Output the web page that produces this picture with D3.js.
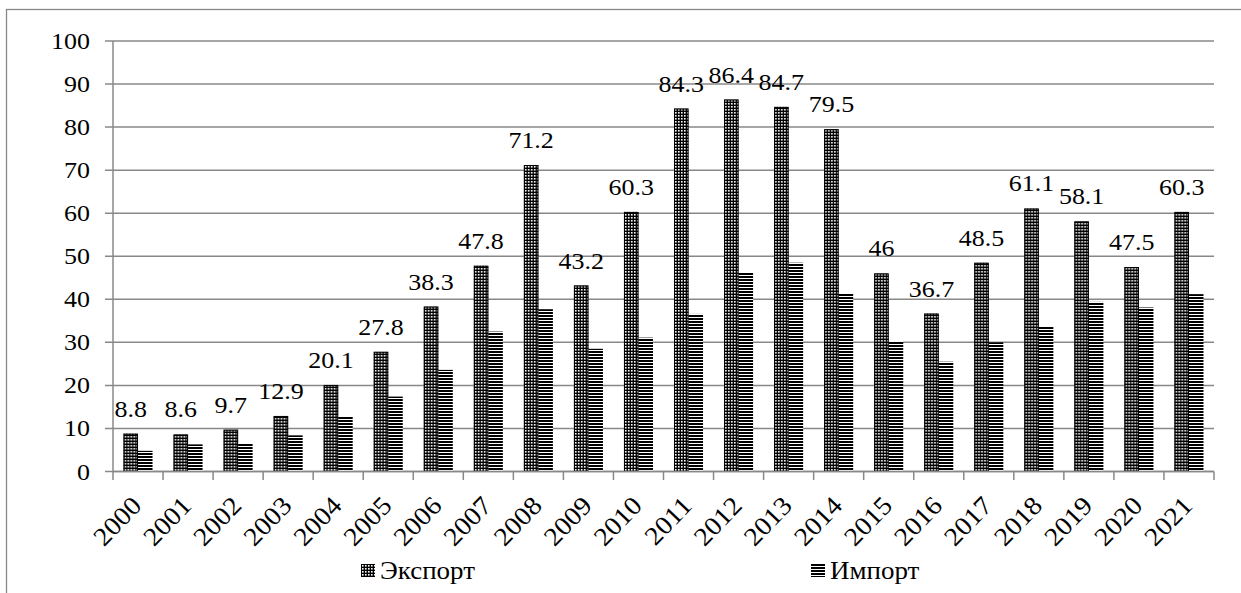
<!DOCTYPE html>
<html><head><meta charset="utf-8">
<script src="https://cdn.jsdelivr.net/npm/d3@7"></script>
<style>
html,body{margin:0;padding:0;background:#fff;}
</style></head>
<body>
<svg id="chart" width="1241" height="593"></svg>
<script>
const years = ["2000","2001","2002","2003","2004","2005","2006","2007","2008","2009","2010","2011","2012","2013","2014","2015","2016","2017","2018","2019","2020","2021"];
const exportValues = [8.8,8.6,9.7,12.9,20.1,27.8,38.3,47.8,71.2,43.2,60.3,84.3,86.4,84.7,79.5,46,36.7,48.5,61.1,58.1,47.5,60.3];
const importValues = [4.8,6.3,6.6,8.4,12.7,17.4,23.6,32.5,37.7,28.5,31.1,36.6,46.2,48.5,41.3,30.3,25.5,30.0,33.6,39.4,38.1,41.2];
const seriesNames = ["Экспорт","Импорт"];
const yTicks = [0,10,20,30,40,50,60,70,80,90,100];
const FONT = "'Liberation Serif'";

const svg = d3.select("#chart");
const defs = svg.append("defs");
const pE = defs.append("pattern").attr("id","pExp").attr("patternUnits","userSpaceOnUse").attr("width",3).attr("height",3);
pE.append("rect").attr("width",3).attr("height",3).attr("fill","#000");
pE.append("rect").attr("x",1).attr("y",1).attr("width",1.6).attr("height",1.6).attr("fill","#fff");
const pI = defs.append("pattern").attr("id","pImp").attr("patternUnits","userSpaceOnUse").attr("width",4).attr("height",3);
pI.append("rect").attr("width",4).attr("height",3).attr("fill","#fff");
pI.append("rect").attr("width",4).attr("height",2).attr("fill","#000");
const fills = ["url(#pExp)","url(#pImp)"];

const grey = "#888";
svg.append("rect").attr("x",6.5).attr("y",9.5).attr("width",1300).attr("height",700)
  .attr("fill","none").attr("stroke",grey).attr("stroke-width",1.3);

const x0 = 113, x1 = 1214, yTop = 41, yBot = 471.5;
const x = d3.scaleBand().domain(years).range([x0,x1]).paddingInner(0.42).paddingOuter(0.21);
const xs = d3.scaleBand().domain(seriesNames).range([0,x.bandwidth()]);
const y = d3.scaleLinear().domain([0,100]).range([yBot,yTop]);

svg.append("g").selectAll("line").data(yTicks).join("line")
  .attr("x1",105).attr("x2",x1).attr("y1",d=>y(d)).attr("y2",d=>y(d))
  .attr("stroke",grey).attr("stroke-width",1.5);
svg.append("line").attr("x1",x0).attr("x2",x0).attr("y1",yTop).attr("y2",yBot)
  .attr("stroke",grey).attr("stroke-width",1.5);
svg.append("g").selectAll("text").data(yTicks).join("text")
  .attr("transform",d=>`translate(90,${y(d)+8}) scale(1.13,1)`)
  .attr("font-family",FONT).attr("text-anchor","end").attr("font-size",23).attr("fill","#000").text(d=>d);

const step = x.step();
const boundaries = d3.range(years.length+1).map(i=>x0 + i*step);
svg.append("g").selectAll("line").data(boundaries).join("line")
  .attr("x1",d=>d).attr("x2",d=>d).attr("y1",yBot).attr("y2",480)
  .attr("stroke",grey).attr("stroke-width",1.5);

const rows = years.map((yr,i)=>({year:yr, vals:[exportValues[i],importValues[i]]}));
const g = svg.append("g").selectAll("g").data(rows).join("g")
  .attr("transform",d=>`translate(${x(d.year)},0)`);
g.selectAll("rect").data(d=>d.vals.map((v,k)=>({k,v}))).join("rect")
  .attr("x",d=>xs(seriesNames[d.k])).attr("width",xs.bandwidth())
  .attr("y",d=>y(d.v)).attr("height",d=>yBot-y(d.v))
  .attr("fill",d=>fills[d.k]);
g.append("rect").attr("x",xs(seriesNames[0])+0.5).attr("width",xs.bandwidth()-1)
  .attr("y",d=>y(d.vals[0])+0.5).attr("height",d=>yBot-y(d.vals[0])-0.5)
  .attr("fill","none").attr("stroke","#000").attr("stroke-width",1);

svg.append("line").attr("x1",x0).attr("x2",x1).attr("y1",yBot).attr("y2",yBot)
  .attr("stroke",grey).attr("stroke-width",1.5);

svg.append("g").selectAll("text").data(rows).join("text")
  .attr("transform",d=>`translate(${x(d.year)+xs(seriesNames[0])+xs.bandwidth()/2},${y(d.vals[0])-17}) scale(1.13,1)`)
  .attr("font-family",FONT).attr("text-anchor","middle").attr("font-size",23).attr("fill","#000").text(d=>d.vals[0]);

svg.append("g").selectAll("text").data(years).join("text")
  .attr("transform",d=>`translate(${x(d)+x.bandwidth()/2+5},${507}) rotate(-46) scale(1.08,1)`)
  .attr("font-family",FONT).attr("text-anchor","end").attr("font-size",26).attr("fill","#000").text(d=>d);

const legX = [361,811];
const lg = svg.append("g").selectAll("g").data(seriesNames).join("g")
  .attr("transform",(d,i)=>`translate(${legX[i]},564)`);
lg.append("rect").attr("width",14).attr("height",13).attr("fill",(d,i)=>fills[i]);
lg.append("text").attr("transform","translate(19,15) scale(1.1,1)")
  .attr("font-family",FONT).attr("font-size",24.5).attr("fill","#000").text(d=>d);
</script>
</body></html>
